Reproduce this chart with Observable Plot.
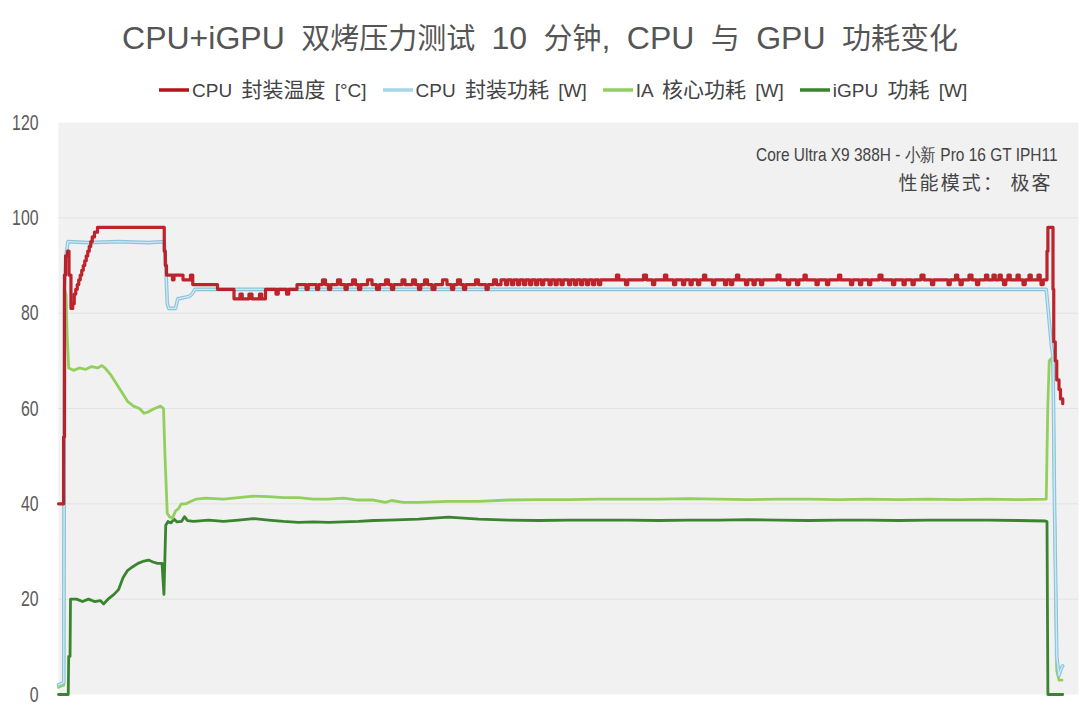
<!DOCTYPE html>
<html><head><meta charset="utf-8">
<script src="https://cdn.jsdelivr.net/npm/d3@7"></script>
<script src="https://cdn.jsdelivr.net/npm/@observablehq/plot@0.6"></script>
<style>
body{margin:0;background:#fff;width:1080px;height:716px;overflow:hidden;position:relative;font-family:"Noto Sans CJK SC",sans-serif;}
#title{position:absolute;left:0;top:12px;width:1080px;text-align:center;color:#555;white-space:nowrap;word-spacing:7.5px;line-height:48px;}
#title .lat{font-family:"Liberation Sans",Arial,sans-serif;font-size:32px;}
#title .cjk{font-family:"Noto Sans CJK SC",sans-serif;font-size:29px;}
#legend{position:absolute;top:74px;left:159px;display:flex;align-items:center;gap:16px;color:#444;white-space:nowrap;word-spacing:4px;line-height:28px;}
#legend .lat{font-family:"Liberation Sans",Arial,sans-serif;font-size:19px;}
#legend .cjk{font-family:"Noto Sans CJK SC",sans-serif;font-size:21px;}
#legend .item{display:flex;align-items:center;}
#legend svg{margin-right:3px;}
#chart{position:absolute;left:0;top:100px;}
</style>
</head><body>
<div id="title"></div>
<div id="legend"></div>
<div id="chart"></div>
<script>
const titleText = "CPU+iGPU 双烤压力测试 10 分钟, CPU 与 GPU 功耗变化";
const noteLines = ["Core Ultra X9 388H - 小新 Pro 16 GT IPH11", "性能模式： 极客"];
const seriesNames = ["CPU 封装温度 [°C]", "CPU 封装功耗 [W]", "IA 核心功耗 [W]", "iGPU 功耗 [W]"];
const seriesColors = ["#b8111a", "#a6d6ea", "#93cf5c", "#3a8430"];
const yTicks = [0, 20, 40, 60, 80, 100, 120];
const gridTicks = [20, 40, 60, 80, 100];

// time [s], value
const cpuTemp = [
[0,40],[3.4,54],[4,88],[4.7,92],[6,93],[7,88],[8.3,81],[9.5,82],[10.5,84],[11.5,85],[12.5,86],[13.5,87],[14.5,88],[15.5,89],[16.5,90],[17.5,91],[18.5,92],[19.5,93],[20.5,94],[21.5,95],[22.5,96],[24,97],[26,98],[70.5,93],[71.2,90],[72,88],
[76,87],[77,88],[83,87],[88,88],[89.5,86],[106,85],[117,83],[121,84],[122.5,83],[127,84],[129,83],[134,84],[135.5,83],[138,85],[145,84],[146.5,85],[152,84],[153.5,85],[159,86],
[165,85],[166.5,86],[172,85],[173.5,86],[176,87],[178,86],[180,85],[181.5,86],[186,87],[188,86],[191,85],[192.5,86],[196,87],[198,86],[200,85],[201.5,86],[206,87],[209,86],[212,85],[214,86],[218,87],[220,86],[222,85],[223.5,86],[229,87],[231,86],[236,87],[238,86],[240,85],[241.5,86],[244,87],[246,86],[249,85],[251,86],[256,87],[259,86],[262,85],[263.5,86],[266,87],[268,86],[270,85],[271.5,86],[278,87],[280,86],[285,85],[286.5,86],[290,87],[292,86],
[295,87],[298,86],[299.5,87],[302,86],[303.5,87],[306,86],[307.5,87],[310,86],[311.5,87],[314,86],[315.5,87],[318,86],[319.5,87],[322,86],[323.5,87],[327,86],[328.5,87],[331,86],[332.5,87],[335,86],[336.5,87],[340,86],[341.5,87],[344,86],[345.5,87],[348,86],[349.5,87],[352,86],[353.5,87],[356,86],[357.5,87],[360,86],[361.5,87],
[372,88],[373.5,87],[378,86],[379.5,87],[390,88],[392,87],[396,86],[397.5,87],[404,88],[405.5,87],[410,86],[411.5,87],[416,86],[417.5,87],[421,86],[422.5,87],[426,86],[427.5,87],[430,88],[431.5,87],[436,86],[437.5,87],[444,86],[445.5,87],[448,86],[449.5,87],[452,88],[453.5,87],[458,86],[459.5,87],[463,86],[464.5,87],[468,86],[469.5,87],[479,88],[481,87],[486,86],[487.5,87],[492,86],[493.5,87],[497,88],[498.5,87],[505,86],[506.5,87],[512,86],[513.5,87],[520,88],[521.5,87],[528,86],[529.5,87],[534,86],[535.5,87],[540,86],[541.5,87],[547,88],[549,87],[556,86],[557.5,87],[563,86],[564.5,87],[569,86],[570.5,87],[575,88],[577,87],[582,86],[583.5,87],[593,86],[594.5,87],[598,88],[599.5,87],[601,86],[602.5,87],[607,88],[609,87],[612,86],[613.5,87],[618,88],[619.5,87],[623,88],[624.5,87],[627,88],[628.5,87],[630,86],[631.5,87],[633,88],[634.5,87],[639,88],[640.5,87],[643,86],[644.5,87],[647,88],[648.5,87],[653,88],[654.5,87],[655,86],[656.5,87],
[659,93],[659.6,98],[663,85],[663.5,74],[664.5,70],[665.5,66],[667,64],[668,62],[669.5,61]
];
const cpuPower = [[0,2],[3.5,2.5],[4,85],[5,92],[6.3,95],[20,94.8],[40,95],[60,94.8],[70.5,95],[71.5,90],[72.5,82],[73.5,81],[78,81],[79.5,83],[87,83.5],[89,84],[91,85],[200,85],[400,85],[600,85],[658.5,85],[660,80],[662,73],[663,71],[664,40],[665.5,8],[667,4],[668.5,5.5],[669.5,6]];
const iaPower = [[0,1.5],[3.5,2],[4,85],[5,84],[5.8,75],[6.8,68.5],[10,68],[14,68.5],[18,68.2],[22,68.8],[26,68.5],[29,69],[31,68.5],[35,67],[38,65.5],[42,63.5],[46,61.5],[50,60.5],[54,60],[57,59],[60,59.3],[64,60],[68,60.5],[70,60],[71,50],[72.5,38],[74,37.3],[76,37],[78,38.5],[80,39],[82,40],[85,40],[88,40.5],[92,41],[98,41.2],[110,41],[120,41.3],[130,41.6],[140,41.5],[150,41.3],[160,41.3],[170,41],[180,41],[190,41.2],[200,40.8],[210,40.8],[218,40.3],[222,40.7],[230,40.3],[240,40.3],[260,40.5],[280,40.5],[300,40.8],[320,40.9],[340,40.9],[360,41],[380,41],[400,41],[420,41.1],[440,41],[460,40.9],[480,41],[500,41],[520,40.9],[540,41],[560,40.9],[580,41],[600,40.9],[620,41],[640,40.9],[658.5,41],[659.5,60],[660.5,70],[662,70.5],[663,69],[664,40],[665.5,5],[667,3],[669,3]];
const igpuPower = [[0,0],[6.5,0],[6.8,8],[7.7,8],[8,20],[12,20],[16,19.5],[20,20],[24,19.5],[28,19.7],[30,19],[33,20],[37,21],[40,22],[43,24.5],[46,26],[49,26.7],[53,27.5],[57,28],[60,28.2],[63,27.8],[66,27.5],[69,27.5],[70.3,21],[71.5,35.5],[73,36.3],[75,36],[77,36.8],[79,36.2],[82,36.3],[84,37.3],[86,36.5],[90,36.3],[100,36.6],[110,36.3],[120,36.6],[130,36.9],[140,36.6],[150,36.3],[160,36.1],[170,36.2],[180,36.1],[190,36.2],[200,36.3],[210,36.5],[220,36.6],[230,36.7],[240,36.8],[250,37],[260,37.2],[270,37],[280,36.8],[290,36.7],[300,36.6],[320,36.5],[340,36.6],[360,36.6],[380,36.6],[400,36.5],[420,36.6],[440,36.6],[460,36.7],[480,36.6],[500,36.5],[520,36.6],[540,36.6],[560,36.5],[580,36.6],[600,36.6],[620,36.6],[640,36.5],[658,36.4],[659,36.3],[659.6,0],[669.5,0]];

const CJK = /([\u3000-\u9fff\uff00-\uffef]+)/;
function mixed(text) {
  return text.split(CJK).filter(s => s).map(s =>
    CJK.test(s) ? `<span class="cjk">${s}</span>` : `<span class="lat">${s}</span>`).join("");
}
document.getElementById("title").innerHTML = mixed(titleText);
const legend = document.getElementById("legend");
seriesNames.forEach((n, i) => {
  const it = document.createElement("div");
  it.className = "item";
  it.innerHTML = `<svg width="30" height="6"><line x1="0" y1="3" x2="30" y2="3" stroke="${seriesColors[i]}" stroke-width="3.5"/></svg><span>${mixed(n)}</span>`;
  legend.appendChild(it);
});

const toRows = arr => arr.map(([t, v]) => ({t, v}));
const sans = "Liberation Sans, Arial, sans-serif";

const chart = Plot.plot({
  width: 1080, height: 616,
  marginLeft: 58, marginRight: 2, marginTop: 22, marginBottom: 22,
  style: {background: "transparent", fontFamily: sans},
  x: {domain: [0, 680], axis: null},
  y: {domain: [0, 120]},
  marks: [
    Plot.frame({fill: "#f1f1f1", stroke: null}),
    Plot.gridY(gridTicks, {stroke: "#e2e2e2", strokeOpacity: 1, strokeWidth: 1}),
    Plot.axisY(yTicks, {tickSize: 0, tickPadding: 20, fontSize: 22, fill: "#5a5a5a", label: null}),
    Plot.line(toRows(igpuPower), {x: "t", y: "v", stroke: seriesColors[3], strokeWidth: 2.8}),
    Plot.line(toRows(iaPower), {x: "t", y: "v", stroke: seriesColors[2], strokeWidth: 2.8}),
    Plot.line(toRows(cpuPower), {x: "t", y: "v", stroke: "#8cc3da", strokeWidth: 3.6}),
    Plot.line(toRows(cpuPower), {x: "t", y: "v", stroke: "#cbeaf5", strokeWidth: 1.4}),
    Plot.line(toRows(cpuTemp), {x: "t", y: "v", stroke: seriesColors[0], strokeWidth: 3.2, curve: "step-after", strokeOpacity: 0.92}),
    Plot.text([noteLines[0]], {frameAnchor: "top-right", dx: -21, dy: 26, fontSize: 18, fill: "#444", fontFamily: sans}),
    Plot.text([noteLines[1]], {frameAnchor: "top-right", dx: -28, dy: 54, fontSize: 19, fill: "#444", fontFamily: "Noto Sans CJK SC, sans-serif"})
  ]
});
// condensed look for tick labels and the model line
chart.querySelectorAll('g[aria-label="y-axis tick label"] text').forEach(el => {
  const tr = el.getAttribute("transform") || "";
  el.setAttribute("transform", `${tr} scale(0.72,1)`);
});
chart.querySelectorAll("text").forEach(el => {
  if (el.textContent === noteLines[0]) {
    const tr = el.getAttribute("transform") || "";
    el.setAttribute("transform", `${tr} scale(0.86,1)`);
  } else if (el.textContent === noteLines[1]) {
    el.setAttribute("textLength", 152);
    el.setAttribute("lengthAdjust", "spacing");
  }
});
document.getElementById("chart").appendChild(chart);
</script>
</body></html>
